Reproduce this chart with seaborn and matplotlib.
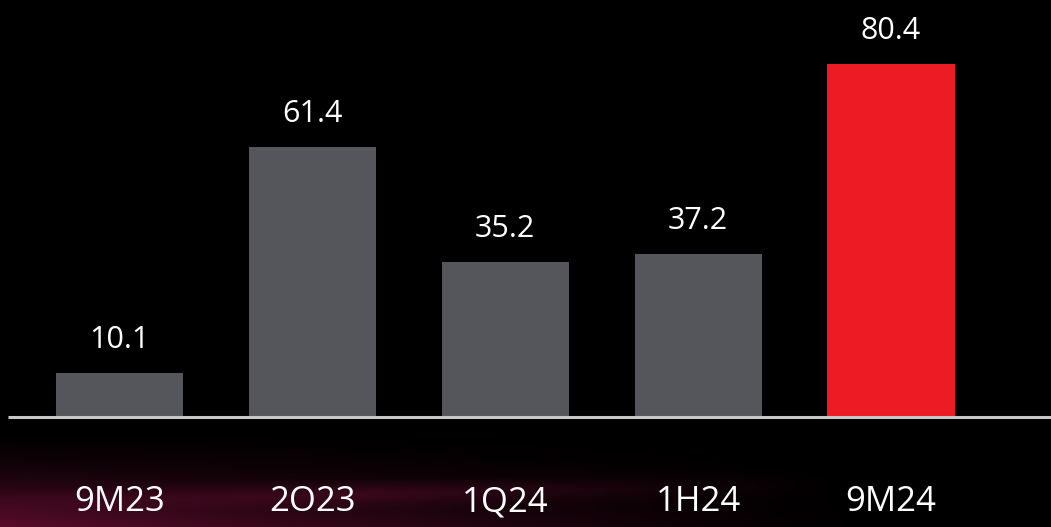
import numpy as np
import pandas as pd
import matplotlib
matplotlib.use("Agg")
import matplotlib.pyplot as plt
import seaborn as sns

# Values per reporting period
periods = ["9M23", "2O23", "1Q24", "1H24", "9M24"]
values = [10.1, 61.4, 35.2, 37.2, 80.4]
bar_colors = ["#55565b", "#55565b", "#55565b", "#55565b", "#ed1c24"]

sns.set_theme(style="dark")
plt.rcParams["font.family"] = ["Open Sans", "DejaVu Sans"]

W, H, DPI = 1051, 527, 100
fig = plt.figure(figsize=(W / DPI, H / DPI), dpi=DPI, facecolor="black")

# Background: black with a faint red-violet glow in the lower left
bg = fig.add_axes([0, 0, 1, 1], zorder=0)
bg.set_axis_off()
yy, xx = np.mgrid[0:H, 0:W]
ny = yy / H
nx = xx / W
ramp = np.clip((ny - 0.80) / 0.20, 0, 1) ** 1.8
fade = np.clip(1.0 - nx / 0.85, 0, 1) ** 1.3
streak = (np.exp(-((ny - 0.95 + 0.04 * nx) ** 2) / 0.0004)
          * np.clip(1.0 - np.abs(nx - 0.35) / 0.45, 0, 1))
strength = np.clip(ramp * fade + 0.35 * streak, 0, 1)
img = np.zeros((H, W, 3))
img[..., 0] = 0.36 * strength
img[..., 1] = 0.05 * strength
img[..., 2] = 0.17 * strength
bg.imshow(img, aspect="auto", extent=[0, 1, 0, 1], origin="upper")
bg.set_xlim(0, 1)
bg.set_ylim(0, 1)

# Bar chart axes: baseline sits 417 px from the top
px_per_unit = 4.39
base_px = 417
ax = fig.add_axes([0, (H - base_px) / H, 1, base_px / H], zorder=1)
ax.patch.set_alpha(0)

df = pd.DataFrame({"period": periods, "value": values})
sns.barplot(data=df, x="period", y="value", hue="period", palette=bar_colors,
            legend=False, width=0.66, saturation=1, linewidth=0, ax=ax)

spacing = 192.9
x0 = -119.5 / spacing
ax.set_xlim(x0, x0 + W / spacing)
ax.set_ylim(0, base_px / px_per_unit)

for cont in ax.containers:
    ax.bar_label(cont, fmt="%.1f", padding=13, color="white", fontsize=22)

# Baseline
left = x0 + 8 / spacing
ax.plot([left, x0 + W / spacing], [0, 0], color="#c8c8c8", lw=2.2,
        solid_capstyle="butt", clip_on=False, zorder=3)

ax.set_xlabel("")
ax.set_ylabel("")
ax.set_yticks([])
ax.tick_params(axis="x", length=0, pad=49, labelsize=25, labelcolor="white")
for s in ax.spines.values():
    s.set_visible(False)
ax.grid(False)

fig.savefig("out.png", dpi=DPI, facecolor="black")
